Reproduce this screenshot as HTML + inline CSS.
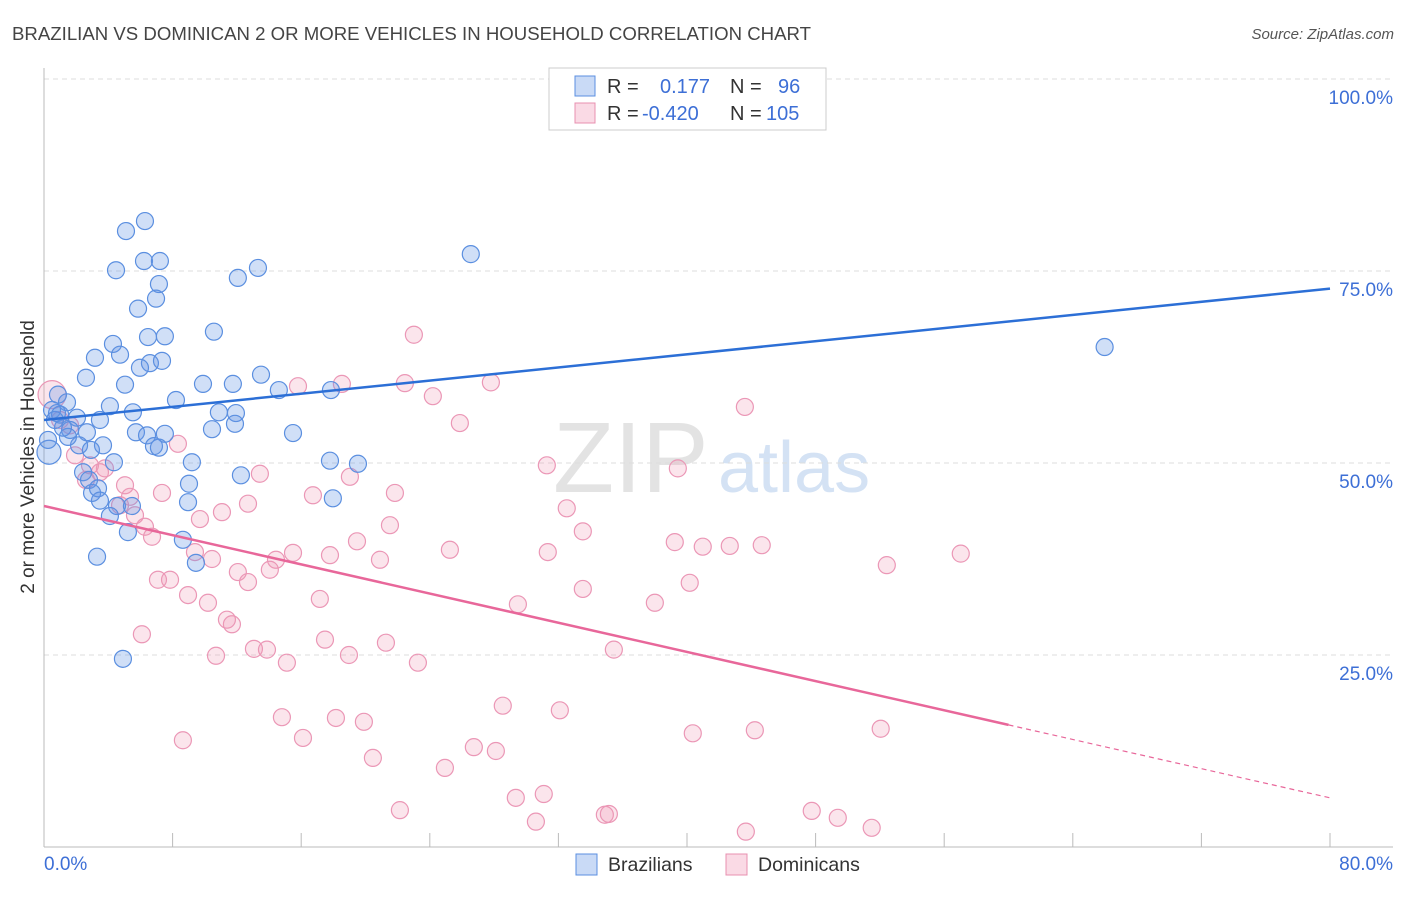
<!DOCTYPE html>
<html><head><meta charset="utf-8"><style>
body{margin:0;background:#fff;font-family:"Liberation Sans",sans-serif}
svg text{font-family:"Liberation Sans",sans-serif}
</style></head><body>
<svg id="chart" width="1406" height="892" xmlns="http://www.w3.org/2000/svg">
<text x="12" y="40" font-size="18" fill="#444" textLength="799" lengthAdjust="spacingAndGlyphs">BRAZILIAN VS DOMINICAN 2 OR MORE VEHICLES IN HOUSEHOLD CORRELATION CHART</text>
<text x="1394" y="39" font-size="15" fill="#555" font-style="italic" text-anchor="end">Source: ZipAtlas.com</text>
<g>
<text x="553" y="492" font-size="100" font-family="Liberation Serif" fill="#d8d8d8" opacity="0.7">ZIP</text>
<text x="718" y="492" font-size="72" fill="#b8d0ee" opacity="0.6">atlas</text>
</g>
<g id="grid"></g>
<line x1="44" y1="68" x2="44" y2="847" stroke="#bbb"/>
<line x1="44" y1="847" x2="1393" y2="847" stroke="#bbb"/>
<g id="xticks"></g>
<text x="34" y="457" font-size="19" fill="#333" text-anchor="middle" transform="rotate(-90 34 457)">2 or more Vehicles in Household</text>
<text x="44" y="870" font-size="19" fill="#3d6fd6">0.0%</text>
<text x="1393" y="870" font-size="19" fill="#3d6fd6" text-anchor="end">80.0%</text>
<g id="pts"></g>
<g id="lines"></g>
<g>
<rect x="549" y="68" width="277" height="62" fill="#fff" stroke="#ccc"/>
<rect x="575" y="76" width="20" height="20" fill="rgba(100,150,230,0.35)" stroke="#5b8fe0"/>
<rect x="575" y="103" width="20" height="20" fill="rgba(240,150,180,0.35)" stroke="#e890b0"/>
<text x="607" y="93" font-size="20" fill="#333">R =</text>
<text x="660" y="93" font-size="20" fill="#3d6fd6">0.177</text>
<text x="730" y="93" font-size="20" fill="#333">N =</text>
<text x="778" y="93" font-size="20" fill="#3d6fd6">96</text>
<text x="607" y="120" font-size="20" fill="#333">R =</text>
<text x="642" y="120" font-size="20" fill="#3d6fd6">-0.420</text>
<text x="730" y="120" font-size="20" fill="#333">N =</text>
<text x="766" y="120" font-size="20" fill="#3d6fd6">105</text>
</g>
<g>
<rect x="576" y="854" width="21" height="21" fill="rgba(100,150,230,0.35)" stroke="#5b8fe0"/>
<text x="608" y="871" font-size="19.5" fill="#333">Brazilians</text>
<rect x="726" y="854" width="21" height="21" fill="rgba(240,150,180,0.35)" stroke="#e890b0"/>
<text x="758" y="871" font-size="19.5" fill="#333">Dominicans</text>
</g>
</svg>
<script>
const yTicks=[25,50,75,100];
const yTickLabels=["25.0%","50.0%","75.0%","100.0%"];
const blueX=[6.28,5.10,4.48,6.22,7.21,7.15,6.97,12.06,13.31,26.55,5.85,6.47,7.52,10.57,4.29,4.73,3.17,6.59,7.34,5.97,2.61,5.04,8.21,9.89,11.75,13.50,14.61,17.85,65.98,0.87,1.43,4.10,5.53,10.88,11.94,3.48,0.81,2.05,1.62,2.67,3.67,2.18,5.72,6.41,7.52,10.45,11.88,15.49,6.84,7.15,1.49,1.18,0.31,2.92,9.20,12.25,17.79,19.53,4.35,2.43,2.80,2.99,3.36,9.02,8.96,17.97,3.48,4.54,5.47,4.10,5.22,8.64,9.45,3.30,4.91,0.50,0.68,1.00,0.25];
const blueY=[81.5,80.2,75.1,76.3,76.3,73.3,71.4,74.1,75.4,77.2,70.1,66.4,66.5,67.1,65.5,64.1,63.7,63.0,63.3,62.4,61.1,60.2,58.2,60.3,60.3,61.5,59.5,59.5,65.1,58.9,57.9,57.4,56.6,56.6,56.5,55.6,56.5,55.9,54.3,54.0,52.3,52.3,54.0,53.6,53.8,54.4,55.1,53.9,52.2,52.0,53.4,54.6,51.4,51.7,50.1,48.4,50.3,49.9,50.1,48.8,47.8,46.1,46.7,47.3,44.9,45.4,45.1,44.4,44.4,43.1,41.0,40.0,37.0,37.8,24.5,56.9,55.6,56.3,53.0];
const pinkX=[0.50,1.00,1.62,1.93,2.86,3.48,3.79,2.61,5.04,5.35,4.73,5.66,6.28,6.72,8.33,7.34,9.70,11.07,12.69,9.39,10.45,12.06,12.69,13.43,15.80,18.53,22.45,23.01,24.19,25.87,27.80,31.28,43.60,39.43,16.73,19.03,21.83,21.52,19.47,17.79,15.49,14.43,14.05,25.25,20.90,31.34,33.52,32.52,39.24,40.98,42.66,44.65,57.03,52.43,40.17,38.00,33.52,29.48,17.16,11.69,11.38,10.20,8.96,7.84,7.09,6.09,17.48,18.97,21.27,13.06,13.87,15.11,10.70,23.26,35.45,8.64,14.80,16.11,18.16,19.90,28.54,32.09,40.36,44.22,52.05,20.46,24.94,26.74,28.11,29.35,31.09,22.14,30.60,34.89,35.14,43.66,47.76,49.38,51.49];
const pinkY=[58.9,55.6,54.9,51.0,49.7,48.8,49.3,47.8,47.1,45.6,44.5,43.2,41.7,40.4,52.5,46.1,42.7,43.6,44.7,38.4,37.5,35.8,34.5,48.6,60.0,60.3,60.4,66.7,58.7,55.2,60.5,49.7,57.3,49.3,45.8,48.2,46.1,41.9,39.8,38.0,38.3,37.4,36.1,38.7,37.4,38.4,41.1,44.1,39.7,39.1,39.2,39.3,38.2,36.7,34.4,31.8,33.6,31.6,32.3,29.0,29.6,31.8,32.8,34.8,34.8,27.7,27.0,25.0,26.6,25.8,25.7,24.0,24.9,24.0,25.7,13.9,16.9,14.2,16.8,16.3,18.4,17.8,14.8,15.2,15.4,11.6,10.3,13.0,12.5,6.4,6.9,4.8,3.3,4.2,4.3,2.0,4.7,3.8,2.5];
const blueTrend=[55.6,72.7];
const pinkTrend=[44.4,6.4];
const pinkSolidEnd=60.0;
const NS="http://www.w3.org/2000/svg";
const X=v=>44+(v/80)*1286;
const Y=v=>847-v*7.68;
function mk(t,a,p){const e=document.createElementNS(NS,t);for(const k in a)e.setAttribute(k,a[k]);p.appendChild(e);return e;}
const grid=document.getElementById('grid');
yTicks.forEach((t,i)=>{
 const l=mk('line',{x1:44,x2:1393,y1:Y(t),y2:Y(t),stroke:'#ddd','stroke-dasharray':'5,4'},grid);
 
 
 const tx=mk('text',{x:1393,y:Y(t)+25,'font-size':19,fill:'#3d6fd6','text-anchor':'end'},grid);
 tx.textContent=yTickLabels[i];
 
 
});
const xt=document.getElementById('xticks');
for(let i=1;i<=10;i++){
 const l=mk('line',{x1:X(i*8),x2:X(i*8),y1:833,y2:847,stroke:'#bbb'},xt);
 
 
}
const pts=document.getElementById('pts');
pinkX.forEach((x,i)=>{
 const c=mk('circle',{cx:X(x),cy:Y(pinkY[i]),r:i===0?14:8.5,fill:'rgba(240,150,180,0.25)',stroke:'#eb97b6','stroke-width':1.2},pts);
 
 
});
blueX.forEach((x,i)=>{
 const c=mk('circle',{cx:X(x),cy:Y(blueY[i]),r:i===52?12:8.5,fill:'rgba(100,150,230,0.3)',stroke:'#5b8fe0','stroke-width':1.2},pts);
 
 
});
const lg=document.getElementById('lines');
const bl=mk('line',{x1:X(0),y1:Y(blueTrend[0]),x2:X(80),y2:Y(blueTrend[1]),stroke:'#2c6fd6','stroke-width':2.5},lg);


const pm=pinkTrend[0]+(pinkTrend[1]-pinkTrend[0])*pinkSolidEnd/80;
const pl=mk('line',{x1:X(0),y1:Y(pinkTrend[0]),x2:X(pinkSolidEnd),y2:Y(pm),stroke:'#e8679a','stroke-width':2.5},lg);


const pd=mk('line',{x1:X(pinkSolidEnd),y1:Y(pm),x2:X(80),y2:Y(pinkTrend[1]),stroke:'#e8679a','stroke-width':1.2,'stroke-dasharray':'5,4'},lg);


</script>
</body></html>
